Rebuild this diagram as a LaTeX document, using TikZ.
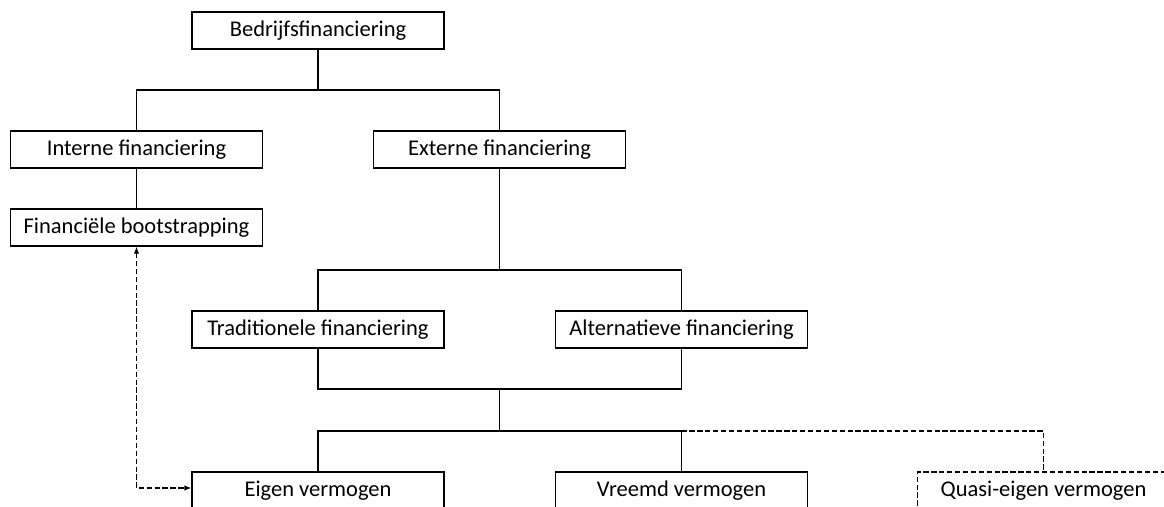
\documentclass[tikz,border=0pt]{standalone}
\usepackage{fontspec}
\setmainfont{Carlito}
\usetikzlibrary{arrows.meta}

\begin{document}
\begin{tikzpicture}[
        every text node part/.style={align=center},
        box/.style={draw=black, line width=0.6pt, minimum width=5.04cm, minimum height=0.74cm, inner sep=0pt, font=\fontsize{12.8}{15}\selectfont},
        link/.style={draw=black, line width=0.6pt},
        dashlink/.style={link, dash pattern=on 3pt off 1.5pt}]
        \clip (0, 0) rectangle (23.28, 10.12);

        \node[box](bedrijf) at (6.36, 9.51){Bedrijfsfinanciering};
        \node[box](intern) at (2.73, 7.13){Interne financiering};
        \node[box](extern) at (9.99, 7.13){Externe financiering};
        \node[box](bootstrap) at (2.73, 5.57){Financiële bootstrapping};

        \node[box](trad) at (6.36, 3.53){Traditionele financiering};
        \node[box](alt) at (13.63, 3.53){Alternatieve financiering};

        \node[box](eigen) at (6.36, 0.31){Eigen vermogen};
        \node[box](vreemd) at (13.63, 0.31){Vreemd vermogen};
        \node[box, dash pattern=on 3pt off 1.5pt](quasi) at (20.87, 0.31){Quasi-eigen vermogen};

        \coordinate(busA) at (6.36, 8.32);
        \coordinate(busB) at (9.99, 4.72);
        \coordinate(busC) at (9.99, 2.34);
        \coordinate(busD) at (9.99, 1.50);

        \draw[link](bedrijf.south) -- (busA);
        \draw[link](intern.north) |- (busA) -| (extern.north);
        \draw[link](intern.south) -- (bootstrap.north);

        \draw[link](extern.south) -- (busB);
        \draw[link](trad.north) |- (busB) -| (alt.north);
        \draw[link](trad.south) |- (busC) -| (alt.south);

        \draw[link](busC) -- (busD);
        \draw[link](eigen.north) |- (busD) -| (vreemd.north);
        \draw[dashlink](vreemd.north |- busD) -| (quasi.north);

        \draw[dashlink, {Latex[length=4pt, width=3pt]}-{Latex[length=4pt, width=3pt]}](bootstrap.south) |- ([yshift=0.05cm]eigen.west);
\end{tikzpicture}
\end{document}
